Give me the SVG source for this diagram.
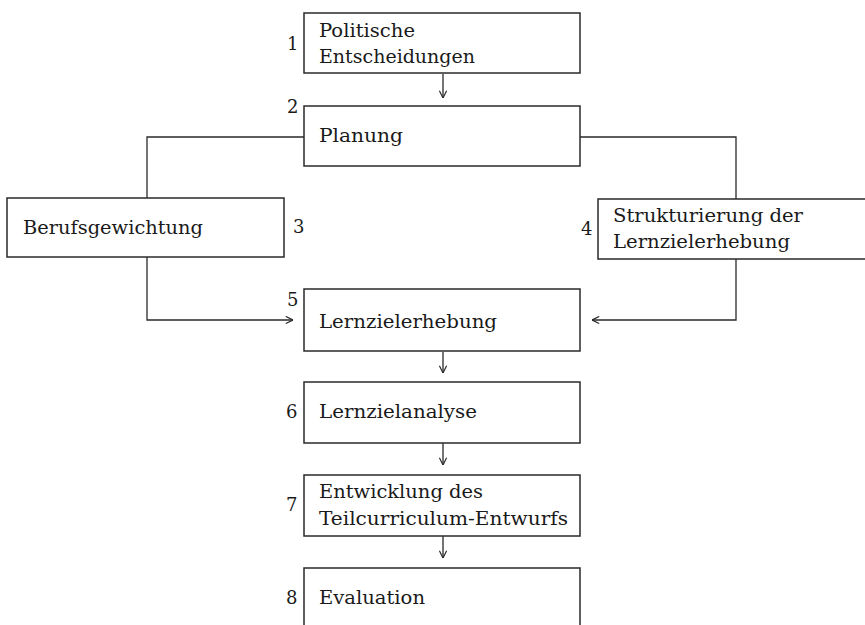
<svg xmlns="http://www.w3.org/2000/svg" width="865" height="625" viewBox="0 0 865 625">
<style>
.box{fill:none;stroke:#2a2a2a;stroke-width:1.5}
.ln{fill:none;stroke:#2a2a2a;stroke-width:1.3}
text{font-family:"DejaVu Serif","Liberation Serif",serif;font-size:18px;fill:#1a1a1a}
</style>
<defs>
<marker id="ah" viewBox="0 0 10 10" refX="10" refY="5" markerWidth="9" markerHeight="9" markerUnits="userSpaceOnUse" orient="auto">
<path d="M2,1 L10,5 L2,9" fill="none" stroke="#2a2a2a" stroke-width="1.3"/>
</marker>
</defs>
<rect width="865" height="625" fill="#fff"/>
<g id="connectors">
<line class="ln" x1="443" y1="74" x2="443" y2="98" marker-end="url(#ah)"/>
<polyline class="ln" points="304,137 147,137 147,198"/>
<polyline class="ln" points="580,137 736,137 736,199"/>
<polyline class="ln" points="147,257 147,320 293,320" marker-end="url(#ah)"/>
<polyline class="ln" points="736,259 736,320 592,320" marker-end="url(#ah)"/>
<line class="ln" x1="443" y1="352" x2="443" y2="373" marker-end="url(#ah)"/>
<line class="ln" x1="443" y1="443" x2="443" y2="465" marker-end="url(#ah)"/>
<line class="ln" x1="443" y1="536" x2="443" y2="558" marker-end="url(#ah)"/>
</g>
<g id="n1">
<rect class="box" x="304" y="13" width="276" height="60"/>
<text x="287" y="50">1</text>
<text x="319" y="37" textLength="96" lengthAdjust="spacingAndGlyphs">Politische</text>
<text x="319" y="63" textLength="156" lengthAdjust="spacingAndGlyphs">Entscheidungen</text>
</g>
<g id="n2">
<rect class="box" x="304" y="106" width="276" height="60"/>
<text x="287" y="113">2</text>
<text x="319" y="142" textLength="84" lengthAdjust="spacingAndGlyphs">Planung</text>
</g>
<g id="n3">
<rect class="box" x="7" y="198" width="277" height="59"/>
<text x="23" y="234" textLength="180" lengthAdjust="spacingAndGlyphs">Berufsgewichtung</text>
<text x="293" y="233">3</text>
</g>
<g id="n4">
<path class="box" d="M870,199 H598 V259 H870"/>
<text x="581" y="235">4</text>
<text x="613" y="222" textLength="190" lengthAdjust="spacingAndGlyphs">Strukturierung der</text>
<text x="613" y="248" textLength="177" lengthAdjust="spacingAndGlyphs">Lernzielerhebung</text>
</g>
<g id="n5">
<rect class="box" x="304" y="289" width="276" height="62"/>
<text x="287" y="306">5</text>
<text x="319" y="328" textLength="178" lengthAdjust="spacingAndGlyphs">Lernzielerhebung</text>
</g>
<g id="n6">
<rect class="box" x="304" y="382" width="276" height="61"/>
<text x="286" y="418">6</text>
<text x="319" y="418" textLength="158" lengthAdjust="spacingAndGlyphs">Lernzielanalyse</text>
</g>
<g id="n7">
<rect class="box" x="304" y="475" width="276" height="61"/>
<text x="286" y="511">7</text>
<text x="319" y="498" textLength="164" lengthAdjust="spacingAndGlyphs">Entwicklung des</text>
<text x="319" y="525" textLength="249" lengthAdjust="spacingAndGlyphs">Teilcurriculum-Entwurfs</text>
</g>
<g id="n8">
<path class="box" d="M304,640 V568 H580 V640"/>
<text x="286" y="604">8</text>
<text x="319" y="604" textLength="106" lengthAdjust="spacingAndGlyphs">Evaluation</text>
</g>
</svg>
